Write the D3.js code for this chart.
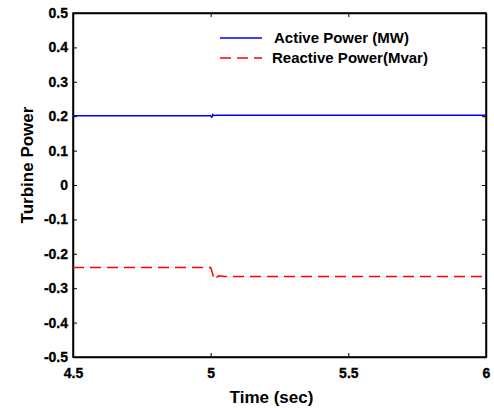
<!DOCTYPE html>
<html>
<head>
<meta charset="utf-8">
<script src="https://cdn.jsdelivr.net/npm/d3@7"></script>
<style>
  body { margin: 0; background: #fff; }
  svg text { font-family: Arial, "Liberation Sans", sans-serif; font-weight: bold; fill: #000; }
</style>
</head>
<body>
<div id="chart"></div>
<script>
// time (sec) and values
const activeTime = [4.5, 5.0, 5.004, 5.008, 5.012, 5.02, 6.0];
const activeVals = [0.201, 0.201, 0.197, 0.205, 0.202, 0.203, 0.203];
const reactiveTime = [4.5, 5.0, 5.006, 5.012, 5.016, 5.022, 5.03, 5.05, 6.0];
const reactiveVals = [-0.24, -0.24, -0.255, -0.272, -0.266, -0.268, -0.264, -0.266, -0.266];
const xTicks = [4.5, 5, 5.5, 6];
const yTicks = [-0.5, -0.4, -0.3, -0.2, -0.1, 0, 0.1, 0.2, 0.3, 0.4, 0.5];
const legendLabels = ["Active Power (MW)", "Reactive Power(Mvar)"];

const w = 494, h = 410;
const m = { left: 73, top: 13, right: 8, bottom: 53 };

const svg = d3.select("#chart").append("svg")
  .attr("width", w).attr("height", h);

const x = d3.scaleLinear().domain([4.5, 6]).range([m.left, w - m.right]);
const y = d3.scaleLinear().domain([-0.5, 0.5]).range([h - m.bottom, m.top]);

// axes, ticks pointing inward
const fmt = d => String(d);
const tickText = g => g.selectAll("text")
  .style("font-size", "14px").attr("stroke", "#000").attr("stroke-width", 0.3);
svg.append("g")
  .attr("transform", `translate(0,${h - m.bottom})`)
  .call(d3.axisBottom(x).tickValues(xTicks).tickFormat(fmt).tickSizeInner(-4).tickSizeOuter(0).tickPadding(11))
  .call(tickText);
svg.append("g")
  .attr("transform", `translate(${m.left},0)`)
  .call(d3.axisLeft(y).tickValues(yTicks).tickFormat(fmt).tickSizeInner(-4).tickSizeOuter(0).tickPadding(5))
  .call(tickText);
svg.append("g")
  .attr("transform", `translate(0,${m.top})`)
  .call(d3.axisTop(x).tickValues(xTicks).tickFormat("").tickSizeInner(-4).tickSizeOuter(0));
svg.append("g")
  .attr("transform", `translate(${w - m.right},0)`)
  .call(d3.axisRight(y).tickValues(yTicks).tickFormat("").tickSizeInner(-4).tickSizeOuter(0));

svg.selectAll(".domain").attr("stroke", "#000").attr("stroke-width", 1.5);

svg.append("rect")
  .attr("x", m.left).attr("y", m.top)
  .attr("width", w - m.left - m.right).attr("height", h - m.top - m.bottom)
  .attr("fill", "none").attr("stroke", "#000").attr("stroke-width", 1.5);

const line = d3.line().x(d => x(d[0])).y(d => y(d[1]));

svg.append("path")
  .datum(activeTime.map((t, i) => [t, activeVals[i]]))
  .attr("d", line).attr("fill", "none")
  .attr("stroke", "#0000ff").attr("stroke-width", 1.5);

svg.append("path")
  .datum(reactiveTime.map((t, i) => [t, reactiveVals[i]]))
  .attr("d", line).attr("fill", "none")
  .attr("stroke", "#ff0000").attr("stroke-width", 1.5)
  .attr("stroke-dasharray", "11,6");

// legend
const legend = svg.append("g");
const legendStyles = [
  { color: "#0000ff", dash: null },
  { color: "#ff0000", dash: "11,6" }
];
legendLabels.forEach((label, i) => {
  const ly = 38 + i * 20;
  legend.append("line")
    .attr("x1", 220).attr("x2", 262).attr("y1", ly).attr("y2", ly)
    .attr("stroke", legendStyles[i].color).attr("stroke-width", 1.5)
    .attr("stroke-dasharray", legendStyles[i].dash);
  legend.append("text")
    .attr("x", i === 0 ? 274 : 272).attr("y", ly + 5)
    .style("font-size", "15px")
    .text(label);
});

// axis titles
svg.append("text")
  .attr("x", 271.5).attr("y", 403)
  .attr("text-anchor", "middle").style("font-size", "17px")
  .text("Time (sec)");
svg.append("text")
  .attr("transform", `translate(33,165) rotate(-90)`)
  .attr("text-anchor", "middle").style("font-size", "17px")
  .text("Turbine Power");
</script>
</body>
</html>
